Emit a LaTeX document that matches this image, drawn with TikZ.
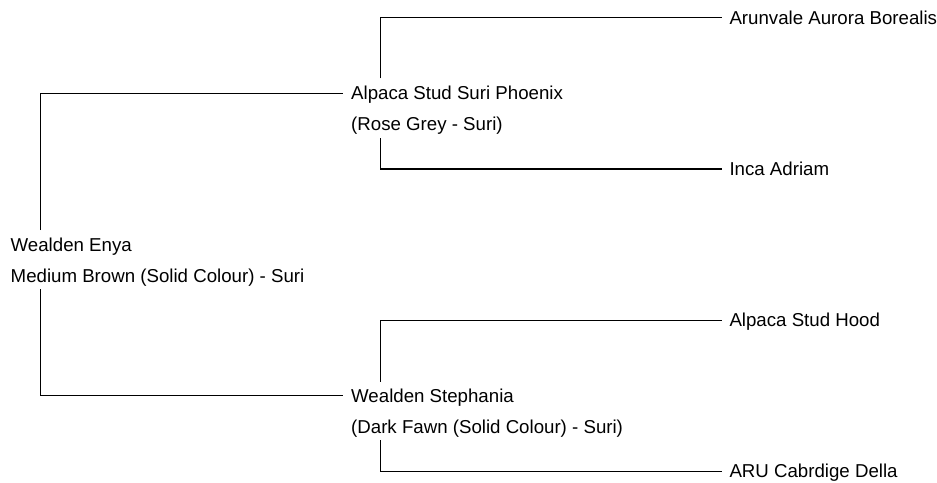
\documentclass[tikz,border=0pt]{standalone}
\usepackage{fontspec}
\setmainfont{Liberation Sans}
\begin{document}
\begin{tikzpicture}[x=1pt,y=-1pt,
  lbl/.style={anchor=base west,inner sep=0pt,text=black,font=\fontsize{18.67}{22}\selectfont},
  conn/.style={draw=black,line width=1.1pt}]
\useasboundingbox (0,0) rectangle (937,482);
% labels
\node[lbl] (enya)   at (10.5,251)  {Wealden Enya};
\node[lbl] (enyac)  at (10.5,282)  {Medium Brown (Solid Colour) - Suri};
\node[lbl] (phoenix)  at (351,99.3)  {Alpaca Stud Suri Phoenix};
\node[lbl] (phoenixc) at (351,130.3) {(Rose Grey - Suri)};
\node[lbl] (steph)  at (351,402)   {Wealden Stephania};
\node[lbl] (stephc) at (351,433)   {(Dark Fawn (Solid Colour) - Suri)};
\node[lbl] (aurora) at (729.3,24.3)  {Arunvale Aurora Borealis};
\node[lbl] (inca)   at (729.3,175.3) {Inca Adriam};
\node[lbl] (hood)   at (729.3,326.7) {Alpaca Stud Hood};
\node[lbl] (della)  at (729.3,477.5) {ARU Cabrdige Della};
% connector end points
\coordinate (e1) at (40.7,230);
\coordinate (e2) at (40.7,289.3);
\coordinate (pIn) at (343.3,93.3);
\coordinate (sIn) at (343.3,395.7);
\coordinate (p1) at (380.7,78.3);
\coordinate (p2) at (380.7,138.3);
\coordinate (s1) at (380.7,381.7);
\coordinate (s2) at (380.7,440);
\coordinate (aIn) at (721.7,17.7);
\coordinate (iIn) at (721.7,169);
\coordinate (hIn) at (721.7,320.7);
\coordinate (dIn) at (721.7,471.7);
% connectors
\draw[conn] (e1) |- (pIn);
\draw[conn] (e2) |- (sIn);
\draw[conn] (p1) |- (aIn);
\draw[conn] (p2) |- (iIn);
\draw[conn] (s1) |- (hIn);
\draw[conn] (s2) |- (dIn);
\end{tikzpicture}
\end{document}
